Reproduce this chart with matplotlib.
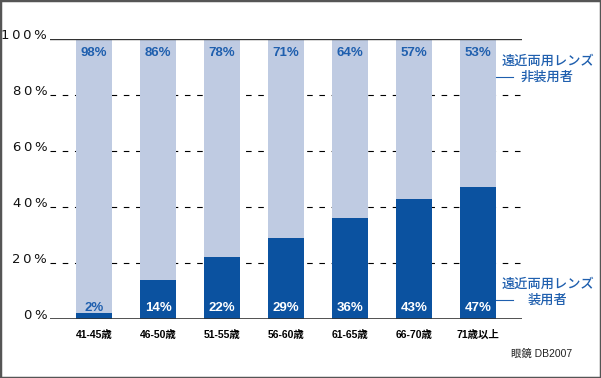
import matplotlib.pyplot as plt
from matplotlib.patches import Rectangle

plt.rcParams['font.family'] = ['Noto Sans CJK JP', 'DejaVu Sans']

ages = ['41-45歳', '46-50歳', '51-55歳', '56-60歳', '61-65歳', '66-70歳', '71歳以上']
users = [2, 14, 22, 29, 36, 43, 47]
non_users = [98, 86, 78, 71, 64, 57, 53]
yticks = [0, 20, 40, 60, 80, 100]

dark = '#0b52a0'
light = '#bfcbe2'
label_blue = '#1f5fae'
latin = ['Liberation Sans', 'Noto Sans CJK JP']

fig = plt.figure(figsize=(6.01, 3.78), dpi=100)
fig.patches.append(Rectangle((0, 0), 1, 1, transform=fig.transFigure,
                             fill=False, edgecolor='#555555', linewidth=2.5))

ax = fig.add_axes([50 / 601, 1 - 319 / 378, 472 / 601, 280 / 378])
x = range(len(ages))
w = 0.5625
ax.bar(x, users, width=w, color=dark, zorder=2)
ax.bar(x, non_users, width=w, bottom=users, color=light, zorder=2)

for y in [20, 40, 60, 80]:
    ax.axhline(y, color='black', linestyle=(0, (5, 6)), linewidth=0.8, zorder=1)
ax.axhline(100, color='#333333', linewidth=1.0, zorder=3)
ax.axhline(0, color='#333333', linewidth=1.2, zorder=3)

for i in x:
    ax.text(i, 95, f'{non_users[i]}%', ha='center', va='center',
            fontsize=9.5, fontweight='bold', color=label_blue, family=latin)
    c = label_blue if users[i] < 5 else 'white'
    ax.text(i, 4, f'{users[i]}%', ha='center', va='center',
            fontsize=9.5, fontweight='bold', color=c, family=latin)

ax.set_xlim(-0.6875, 6.6875)
ax.set_ylim(0, 100)
ax.set_yticks(yticks)
ax.set_yticklabels(['\u2009'.join(f'{v}%') for v in yticks],
                   fontsize=9.5, family='DejaVu Sans', color='#111111')
for lab in ax.get_yticklabels():
    lab.set_va('baseline')
ax.set_xticks(list(x))
ax.set_xticklabels(ages, fontsize=7.5, fontweight='bold', family=latin)
ax.tick_params(length=0, pad=2)
ax.tick_params(axis='x', pad=8)
for s in ax.spines.values():
    s.set_visible(False)

# legend-like labels on the right
fig.add_artist(plt.Line2D([496 / 601, 513 / 601], [1 - 77 / 378, 1 - 77 / 378],
                          color=label_blue, linewidth=0.8))
fig.text(594 / 601, 1 - 61 / 378, '遠近両用レンズ', ha='right', va='center',
         fontsize=9.5, color=label_blue, fontweight='medium')
fig.text(574 / 601, 1 - 77 / 378, '非装用者', ha='right', va='center',
         fontsize=9.5, color=label_blue, fontweight='medium')
fig.add_artist(plt.Line2D([496 / 601, 513 / 601], [1 - 300 / 378, 1 - 300 / 378],
                          color=label_blue, linewidth=0.8))
fig.text(594 / 601, 1 - 284 / 378, '遠近両用レンズ', ha='right', va='center',
         fontsize=9.5, color=label_blue, fontweight='medium')
fig.text(567 / 601, 1 - 300 / 378, '装用者', ha='right', va='center',
         fontsize=9.5, color=label_blue, fontweight='medium')

fig.text(572 / 601, 1 - 354 / 378, '眼鏡 DB2007', ha='right', va='center',
         fontsize=7.5, color='#222222', family=latin)

fig.savefig('out.png', dpi=100)
